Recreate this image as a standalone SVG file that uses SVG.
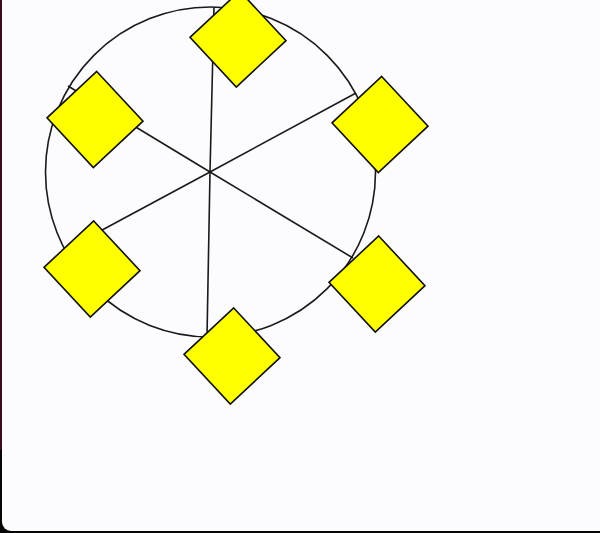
<svg xmlns="http://www.w3.org/2000/svg" width="600" height="533" viewBox="0 0 600 533">
  <defs>
    <style>
      .ring { fill: none; stroke: #1a1a1a; stroke-width: 1.6; }
      .spoke { stroke: #1a1a1a; stroke-width: 1.6; fill: none; }
      .node { fill: #ffff00; stroke: #111111; stroke-width: 1.6; stroke-linejoin: miter; }
    </style>
    <polygon id="diamond" points="1.7,-48 48,1.7 -1.7,48 -48,-1.7"/>
  </defs>
  <rect x="0" y="0" width="600" height="533" fill="#050505"/>
  <rect x="0" y="0" width="3" height="450" fill="#3a0b1c"/>
  <rect x="2" y="-20" width="620" height="551" rx="9" ry="9" fill="#fcfbfd"/>

  <circle class="ring" cx="210.5" cy="172" r="165"/>

  <g id="connectors">
    <line class="spoke" x1="210" y1="172" x2="214" y2="7"/>
    <line class="spoke" x1="210" y1="172" x2="356" y2="93"/>
    <line class="spoke" x1="210" y1="172" x2="353" y2="258"/>
    <line class="spoke" x1="210" y1="172" x2="207" y2="337"/>
    <line class="spoke" x1="210" y1="172" x2="65" y2="250"/>
    <line class="spoke" x1="210" y1="172" x2="68" y2="86"/>
  </g>

  <g id="node-top"><use href="#diamond" class="node" x="238" y="39"/></g>
  <g id="node-upper-right"><use href="#diamond" class="node" x="380" y="124.5"/></g>
  <g id="node-lower-right"><use href="#diamond" class="node" x="377" y="284"/></g>
  <g id="node-bottom"><use href="#diamond" class="node" x="232" y="356"/></g>
  <g id="node-lower-left"><use href="#diamond" class="node" x="92" y="269"/></g>
  <g id="node-upper-left"><use href="#diamond" class="node" x="95" y="119.5"/></g>
</svg>
